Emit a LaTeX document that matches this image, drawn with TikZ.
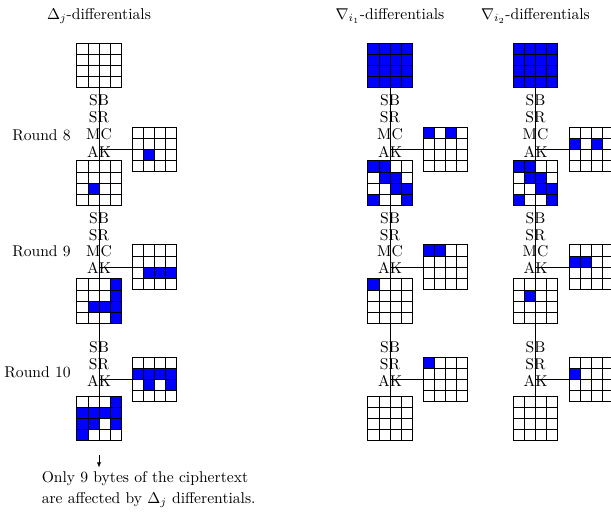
\documentclass[tikz,border=0pt]{standalone}
\usetikzlibrary{calc,arrows.meta}

\tikzset{
  gridbox/.style={minimum size=1cm, inner sep=0pt, outer sep=0pt},
  gridline/.style={line width=0.4pt, black},
  cellfill/.style={fill=blue},
  wire/.style={line width=0.45pt, black},
  opname/.style={inner sep=0pt},
  roundname/.style={inner sep=0pt, anchor=east},
  header/.style={inner sep=0pt, anchor=base},
}

% side length of one byte cell (picture units)
\def\cellsz{11.1133}

% #1 name, #2 x, #3 y, #4 list of filled cells row/col (may be empty)
\newcommand\stategrid[4]{%
  \node[gridbox] (#1) at (#2,#3) {};
  \if\relax\detokenize{#4}\relax\else
    \foreach \rr/\cc in {#4}{%
      \fill[cellfill] ($(#1.north west)+(\cc*\cellsz,\rr*\cellsz)$) rectangle +(\cellsz,\cellsz);
    }%
  \fi
  \foreach \k in {1,2,3}{%
    \draw[gridline] ($(#1.north west)+(\k*\cellsz,0)$) -- +(0,4*\cellsz);
    \draw[gridline] ($(#1.north west)+(0,\k*\cellsz)$) -- +(4*\cellsz,0);
  }%
  \draw[gridline] (#1.north west) rectangle (#1.south east);
}

\begin{document}
\begin{tikzpicture}[x=0.64pt,y=-0.64pt]
\useasboundingbox (0,0) rectangle (611,513);
\clip (0,0) rectangle (611,513);

% column headers
\node[header] (ha) at (99,19.5)  {$\Delta_j$-differentials};
\node[header] (hb) at (390,19.5) {$\nabla_{i_1}$-differentials};
\node[header] (hc) at (535.5,19.5) {$\nabla_{i_2}$-differentials};

% round names
\node[roundname] (r8)  at (71,135)   {Round 8};
\node[roundname] (r9)  at (71,251.5) {Round 9};
\node[roundname] (r10) at (71,372)   {Round 10};

% operation names of the three rounds, for every column
\foreach \p/\cx in {a/99, b/390, c/535.5}{
  \node[opname] (\p sb8) at (\cx,100.5) {SB};
  \node[opname] (\p sr8) at (\cx,117.5) {SR};
  \node[opname] (\p mc8) at (\cx,134.5) {MC};
  \node[opname] (\p ak8) at (\cx,151.5) {AK};
  \node[opname] (\p sb9) at (\cx,218)   {SB};
  \node[opname] (\p sr9) at (\cx,235)   {SR};
  \node[opname] (\p mc9) at (\cx,251.5) {MC};
  \node[opname] (\p ak9) at (\cx,268)   {AK};
  \node[opname] (\p sb10) at (\cx,347.5) {SB};
  \node[opname] (\p sr10) at (\cx,364)   {SR};
  \node[opname] (\p ak10) at (\cx,380.5) {AK};
}

% placeholders for the column states, so the wires can be drawn underneath
\foreach \p/\cx in {a/99, b/390, c/535.5}{
  \coordinate (\p top) at (\cx,65.5);
  \coordinate (\p bot) at (\cx,418.5);
  \draw[wire] (\p top) -- (\p bot);
}

% ---- Delta_j column ----
\stategrid{a0}{99}{65.5}{}
\stategrid{a8k}{154.5}{149.5}{2/1}
\stategrid{a1}{99}{183}{2/1}
\stategrid{a9k}{154.5}{267}{2/1,2/2,2/3}
\stategrid{a2}{99}{301}{0/3,1/3,2/1,2/2,2/3,3/3}
\stategrid{a10k}{154.5}{379.5}{1/0,1/1,1/2,1/3,2/1,2/3}
\stategrid{a3}{99}{418.5}{0/3,1/0,1/1,1/2,1/3,2/0,2/1,2/3,3/0}

% ---- nabla_{i1} column ----
\stategrid{b0}{390}{65.5}{0/0,0/1,0/2,0/3,1/0,1/1,1/2,1/3,2/0,2/1,2/2,2/3,3/0,3/1,3/2,3/3}
\stategrid{b8k}{445.5}{149.5}{0/0,0/2}
\stategrid{b1}{390}{183}{0/0,0/1,1/1,1/2,2/2,2/3,3/0,3/3}
\stategrid{b9k}{445.5}{267}{0/0,0/1}
\stategrid{b2}{390}{301}{0/0}
\stategrid{b10k}{445.5}{379.5}{0/0}
\stategrid{b3}{390}{418.5}{}

% ---- nabla_{i2} column ----
\stategrid{c0}{535.5}{65.5}{0/0,0/1,0/2,0/3,1/0,1/1,1/2,1/3,2/0,2/1,2/2,2/3,3/0,3/1,3/2,3/3}
\stategrid{c8k}{591.5}{149.5}{1/0,1/2}
\stategrid{c1}{535.5}{183}{0/0,0/1,1/1,1/2,2/2,2/3,3/0,3/3}
\stategrid{c9k}{591.5}{267}{1/0,1/1}
\stategrid{c2}{535.5}{301}{1/1}
\stategrid{c10k}{591.5}{379.5}{1/0}
\stategrid{c3}{535.5}{418.5}{}

% round keys fed into the column at AK
\foreach \p in {a,b,c}{
  \foreach \r in {8,9,10}{
    \draw[wire] (\p\r k.west) -- (\p\r k.west -| \p top);
  }
}

% conclusion
\coordinate (arrs) at (99,455.5);
\coordinate (arre) at (99,467.5);
\draw[wire,-{Latex[length=3.2pt,width=2.6pt]}] (arrs) -- (arre);
\node[inner sep=0pt, anchor=north west, align=left] (note) at (41.5,471)
  {Only 9 bytes of the ciphertext\\[1.4pt]are affected by $\Delta_j$ differentials.};
\end{tikzpicture}
\end{document}
